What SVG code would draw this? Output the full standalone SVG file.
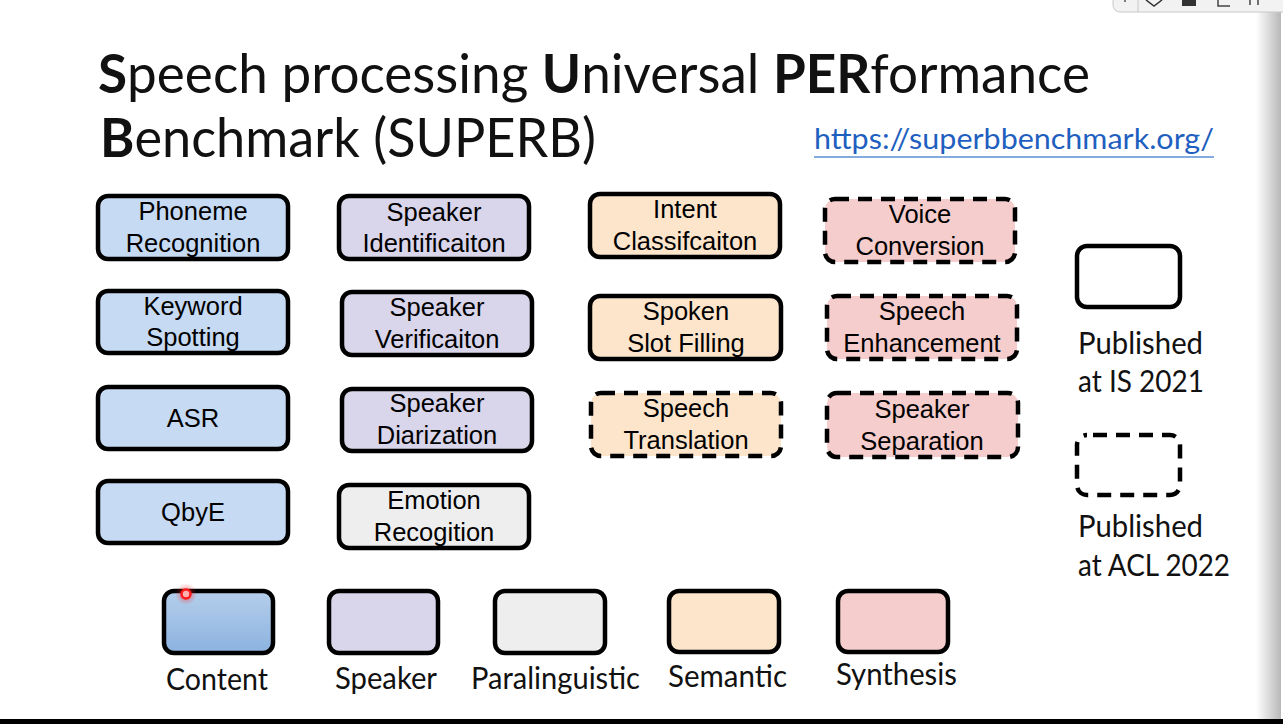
<svg xmlns="http://www.w3.org/2000/svg" width="1283" height="724" viewBox="0 0 1283 724">
<defs>
<linearGradient id="gContent" x1="0" y1="0" x2="0" y2="1">
<stop offset="0" stop-color="#b5cfeb"/>
<stop offset="1" stop-color="#8cb2e0"/>
</linearGradient>
<linearGradient id="gEdge" x1="0" y1="0" x2="1" y2="0">
<stop offset="0" stop-color="#ffffff"/>
<stop offset="1" stop-color="#b8b8b8"/>
</linearGradient>
<radialGradient id="gDot">
<stop offset="0" stop-color="#ff2020" stop-opacity="0.6"/>
<stop offset="1" stop-color="#ff2020" stop-opacity="0"/>
</radialGradient>
</defs>
<style>
.box{stroke:#000;stroke-width:4.5}
.dash{stroke-dasharray:14 9}
.content{fill:#c6daf3}
.speaker{fill:#d9d5ea}
.para{fill:#eeeeee}
.sem{fill:#fde5cc}
.syn{fill:#f4cdcc}
.t{font-family:"Liberation Sans",Arial,sans-serif;font-size:25.5px;fill:#000;text-anchor:middle}
.c{font-family:Lato,"Open Sans",sans-serif;fill:#111}
.lg{font-size:30px}
</style>
<rect width="1283" height="724" fill="#ffffff"/>
<rect x="1256" y="0" width="25" height="720" fill="url(#gEdge)"/>
<rect x="0" y="719" width="1283" height="5" fill="#000"/>
<g id="toolbar">
<rect x="1113" y="-12" width="180" height="24" rx="7" fill="#f2f2f2" stroke="#c8c8c8" stroke-width="1"/>
<line x1="1138" y1="-2" x2="1138" y2="12" stroke="#c8c8c8"/>
<path d="M1125 0 v2" stroke="#555" stroke-width="1.5"/>
<path d="M1146 0 l8 6 l8 -6" stroke="#333" fill="none" stroke-width="1.5"/>
<rect x="1182" y="0" width="14" height="6" fill="#333"/>
<path d="M1218 0 v6 h12" stroke="#444" fill="none" stroke-width="1.5"/>
<path d="M1250 0 v5 M1258 0 v5" stroke="#444" fill="none" stroke-width="1.5"/>
</g>
<g id="title">
<text class="c" x="98" y="93" font-size="54" textLength="992" lengthAdjust="spacingAndGlyphs"><tspan font-weight="bold">S</tspan>peech processing <tspan font-weight="bold">U</tspan>niversal <tspan font-weight="bold">PER</tspan>formance</text>
<text class="c" x="100" y="157" font-size="54" textLength="496" lengthAdjust="spacingAndGlyphs"><tspan font-weight="bold">B</tspan>enchmark (SUPERB)</text>
</g>
<g id="url">
<text x="814" y="149" font-family="Lato,'Open Sans',sans-serif" font-size="29" fill="#1f5fbf" textLength="400" lengthAdjust="spacingAndGlyphs">https://superbbenchmark.org/</text>
<line x1="814" y1="157" x2="1214" y2="157" stroke="#5b8fd6" stroke-width="1.5"/>
</g>
<g id="phoneme-recognition"><rect class="box content" x="98" y="196" width="190" height="63" rx="10"/><text class="t" x="193" y="220">Phoneme</text><text class="t" x="193" y="252">Recognition</text></g>
<g id="keyword-spotting"><rect class="box content" x="98" y="291" width="190" height="62" rx="10"/><text class="t" x="193" y="315">Keyword</text><text class="t" x="193" y="346">Spotting</text></g>
<g id="asr"><rect class="box content" x="98" y="387" width="190" height="62" rx="10"/><text class="t" x="193" y="427">ASR</text></g>
<g id="qbye"><rect class="box content" x="98" y="481" width="190" height="62" rx="10"/><text class="t" x="193" y="521">QbyE</text></g>
<g id="speaker-identification"><rect class="box speaker" x="339" y="196" width="190" height="63" rx="10"/><text class="t" x="434" y="221">Speaker</text><text class="t" x="434" y="252">Identificaiton</text></g>
<g id="speaker-verification"><rect class="box speaker" x="342" y="292" width="190" height="63" rx="10"/><text class="t" x="437" y="316">Speaker</text><text class="t" x="437" y="348">Verificaiton</text></g>
<g id="speaker-diarization"><rect class="box speaker" x="342" y="389" width="190" height="62" rx="10"/><text class="t" x="437" y="412">Speaker</text><text class="t" x="437" y="444">Diarization</text></g>
<g id="emotion-recognition"><rect class="box para" x="339" y="485" width="190" height="63" rx="10"/><text class="t" x="434" y="509">Emotion</text><text class="t" x="434" y="541">Recogition</text></g>
<g id="intent-classification"><rect class="box sem" x="590" y="194" width="190" height="63" rx="10"/><text class="t" x="685" y="218">Intent</text><text class="t" x="685" y="250">Classifcaiton</text></g>
<g id="spoken-slot-filling"><rect class="box sem" x="590" y="296" width="191" height="63" rx="10"/><text class="t" x="686" y="320">Spoken</text><text class="t" x="686" y="352">Slot Filling</text></g>
<g id="speech-translation"><rect class="box sem dash" x="591" y="393" width="190" height="63" rx="10"/><text class="t" x="686" y="417">Speech</text><text class="t" x="686" y="449">Translation</text></g>
<g id="voice-conversion"><rect class="box syn dash" x="825" y="199" width="190" height="63" rx="10"/><text class="t" x="920" y="223">Voice</text><text class="t" x="920" y="255">Conversion</text></g>
<g id="speech-enhancement"><rect class="box syn dash" x="827" y="296" width="190" height="63" rx="10"/><text class="t" x="922" y="320">Speech</text><text class="t" x="922" y="352">Enhancement</text></g>
<g id="speaker-separation"><rect class="box syn dash" x="827" y="393" width="191" height="64" rx="10"/><text class="t" x="922" y="418">Speaker</text><text class="t" x="922" y="450">Separation</text></g>
<g id="legend-is2021"><rect class="box" fill="none" x="1077" y="246" width="103" height="61" rx="10"/><text class="c lg" x="1078" y="354" textLength="125" lengthAdjust="spacingAndGlyphs">Published</text><text class="c lg" x="1078" y="392" textLength="126" lengthAdjust="spacingAndGlyphs">at IS 2021</text></g>
<g id="legend-acl2022"><rect class="box dash" fill="none" x="1077" y="435" width="103" height="60" rx="10" stroke-dasharray="22 14" stroke-dashoffset="-6"/><text class="c lg" x="1078" y="537" textLength="125" lengthAdjust="spacingAndGlyphs">Published</text><text class="c lg" x="1078" y="576" textLength="152" lengthAdjust="spacingAndGlyphs">at ACL 2022</text></g>
<g id="legend-content"><rect class="box" fill="url(#gContent)" x="164" y="591" width="109" height="62" rx="10"/><text class="c lg" x="166" y="690" textLength="102" lengthAdjust="spacingAndGlyphs">Content</text></g>
<g id="legend-speaker"><rect class="box speaker" x="329" y="591" width="109" height="62" rx="10"/><text class="c lg" x="335" y="689" textLength="102" lengthAdjust="spacingAndGlyphs">Speaker</text></g>
<g id="legend-paralinguistic"><rect class="box para" x="495" y="591" width="110" height="62" rx="10"/><text class="c lg" x="471" y="689" textLength="169" lengthAdjust="spacingAndGlyphs">Paralinguistic</text></g>
<g id="legend-semantic"><rect class="box sem" x="669" y="591" width="110" height="61" rx="10"/><text class="c lg" x="668" y="687" textLength="119" lengthAdjust="spacingAndGlyphs">Semantic</text></g>
<g id="legend-synthesis"><rect class="box syn" x="838" y="591" width="110" height="61" rx="10"/><text class="c lg" x="836" y="685" textLength="121" lengthAdjust="spacingAndGlyphs">Synthesis</text></g>
<g id="connectors"></g>
<g id="cursor"><circle cx="186" cy="594" r="11" fill="url(#gDot)"/><circle cx="186" cy="594" r="4.5" fill="#ffb0b0" stroke="#ff1a1a" stroke-width="2.5"/></g>
</svg>
